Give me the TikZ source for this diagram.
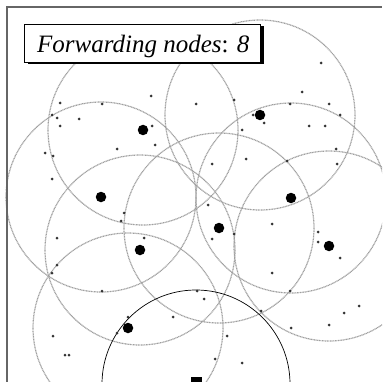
\documentclass[tikz,border=0pt]{standalone}
\usepackage{fontspec}
\setmainfont{Liberation Serif}
\begin{document}
\begin{tikzpicture}[x=1pt,y=-1pt,
  radiorange/.style={draw=gray!75, line width=1.2pt, dash pattern=on 1pt off 0.6pt},
  fwd/.style={circle, fill=black, inner sep=0pt, minimum size=10.5pt},
  host/.style={circle, fill=gray!40!black, inner sep=0pt, minimum size=3pt},
  src/.style={rectangle, fill=black, inner sep=0pt, minimum width=11pt, minimum height=10pt},
  framebar/.style={draw=gray!80!black, line width=2pt},
  labelbox/.style={draw=black, line width=0.8pt, fill=white, inner sep=0pt, minimum width=236pt, minimum height=38pt},
  shadowbox/.style={fill=black, inner sep=0pt, minimum width=236pt, minimum height=38pt}]
\useasboundingbox (0,0) rectangle (382,382);
\clip (0,0) rectangle (382,382);
\fill[white] (0,0) rectangle (382,382);
% forwarding nodes
\foreach \n/\x/\y in {f1/143/130, f2/260/115, f3/101/197, f4/291/198, f5/219/228, f6/140/250, f7/329/246, f8/128/328}
  \coordinate (\n) at (\x,\y);
\foreach \n in {f1,f2,f3,f4,f5,f6,f7,f8}
  \draw[radiorange] (\n) circle (95);
% source and its range
\coordinate (s) at (196,384);
\draw[black, line width=0.7pt] (s) circle (94);
\node[src] (srcnode) at (196,382) {};
% ordinary hosts
\foreach \x/\y [count=\i] in {60/103, 102/104, 151/96, 52/115, 57/118, 79/119, 60/126, 152/126, 155/145, 117/149, 45/153, 53/156, 52/179,
  321/63, 302/92, 196/104, 234/100, 290/104, 329/104, 340/115, 253/115, 264/123, 309/126, 325/126, 242/130, 336/149, 337/164, 212/164, 246/159, 287/161,
  124/213, 121/221, 57/238, 144/238, 57/265, 52/273, 102/291, 128/317, 173/317, 117/333, 53/336, 65/355, 69/355,
  208/205, 212/239, 272/224, 234/234, 318/232, 318/242, 340/258, 272/273, 290/291, 197/291, 204/299, 261/311, 344/313, 359/306, 329/325, 291/328, 227/336, 215/359, 242/363}
  \node[host] (h\i) at (\x,\y) {};
\foreach \n in {f1,f2,f3,f4,f5,f6,f7,f8}
  \node[fwd] (n\n) at (\n) {};
% frame
\draw[framebar] (7,382) -- (7,7) -- (382,7);
% label
\node[shadowbox] (shadow) at (145.5,45) {};
\node[labelbox] (label) at (142,43) {};
\node[anchor=base west, inner sep=0pt, font=\fontsize{25}{28}\selectfont] (title) at (37,53) {\textit{Forwarding nodes}: \textit{8}};
\end{tikzpicture}
\end{document}
